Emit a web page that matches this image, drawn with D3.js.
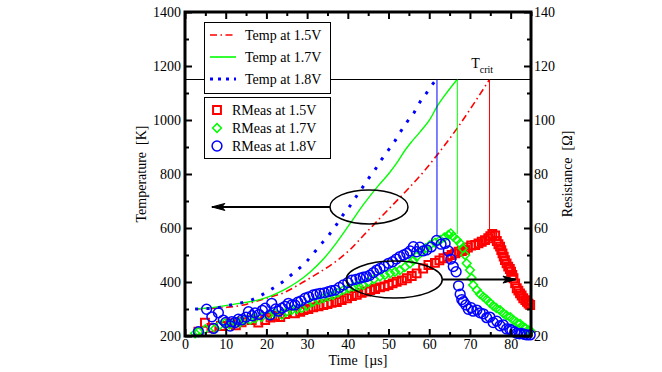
<!DOCTYPE html>
<html lang="en">
<head>
<meta charset="UTF-8">
<title>Temperature and resistance vs time</title>
<script src="https://cdnjs.cloudflare.com/ajax/libs/d3/7.8.5/d3.min.js"></script>
<style>
  body { margin: 0; background: #fff; }
  svg { display: block; font-family: 'Liberation Serif', 'DejaVu Serif', serif; }
</style>
</head>
<body>
<div id="chart"></div>
<script>
// simulated temperature [K] vs time [µs]
const temp15 = [[2.5,300],[6,302],[10,306],[14,314],[17.2,327],[20.1,340],[24.2,360],[28.3,393],[32.4,430],[36.4,469],[40.5,519],[44,575],[47.5,630],[51,685],[54.5,740],[58.6,808],[62.7,885],[66.8,968],[70.8,1057],[74.8,1150]];
const temp17 = [[2.5,300],[5,303],[8,308],[13,320],[17.6,332],[21,348],[24.2,370],[27.4,398],[30.7,436],[34,485],[37.3,547],[40.5,615],[44,690],[47.5,757],[50,800],[52,840],[54.1,889],[55.7,920],[57.7,955],[60.2,1003],[61.8,1047],[64,1095],[66.9,1151]];
const temp18 = [[2.5,300],[8,305],[10.9,314],[13.6,322],[16.4,334],[19,353],[21.3,374],[23.8,398],[26,425],[28.1,451],[30,478],[31.8,510],[33.6,543],[35.5,577],[37.1,610],[38.7,646],[40.4,679],[42,715],[43.7,752],[45.2,786],[46.9,821],[48.3,854],[50,889],[51.6,923],[53.1,960],[54.6,994],[56.3,1028],[57.7,1066],[59.4,1101],[61,1136],[61.9,1150]];

// measured resistance [Ω] vs time [µs]
const rmeas15 = [[3.3,21.6],[4.9,24.9],[6.5,23.0],[8.8,23.7],[11.1,24.7],[12.5,24.0],[13.9,25.1],[16.4,25.9],[18,25.0],[19.7,25.9],[21,26.8],[22.1,27.4],[23.4,27.0],[24.6,28.1],[27,28.4],[28.3,29.0],[29.1,29.6],[30.3,30.0],[31.5,30.6],[32.8,31.0],[34,31.5],[35,31.8],[36,32.3],[37.3,32.6],[38.5,33.3],[39.8,34.0],[41,34.8],[42.2,35.3],[43.4,36.0],[44.5,36.5],[45.5,37.0],[46.7,37.4],[47.9,38.0],[49,38.4],[50,38.9],[51,39.5],[52,40.1],[53.3,40.6],[54.5,41.4],[55.7,42.2],[56.9,43.2],[58.5,45.0],[59.8,46.3],[61.4,47.1],[62.5,48.0],[63.5,48.8],[64.5,49.3],[65.5,50.0],[66.4,50.6],[67.2,51.2],[68,51.5],[68.8,51.9],[69.5,52.8],[70.3,53.5],[71.3,53.7],[72.1,54.3],[72.9,54.9],[73.7,55.5],[74.5,56.2],[75,57.0],[75.5,57.8],[76.2,57.2],[76.6,55.2],[77,54.0],[77.4,53.1],[77.7,51.8],[78,50.6],[78.3,49.4],[78.6,48.1],[79,46.9],[79.4,45.7],[79.8,44.8],[80.1,43.8],[80.4,42.6],[80.7,41.4],[81.1,39.5],[81.5,37.7],[81.9,36.8],[82.3,35.8],[82.7,35.0],[83.1,34.0],[83.6,33.3],[84,32.7],[84.4,32.0],[84.8,31.5]];
const rmeas17 = [[2.5,21.0],[3.3,21.6],[5,22.5],[7.4,22.8],[8.5,24.0],[9.8,24.7],[11,24.2],[12.3,25.3],[13.5,25.0],[14.7,25.9],[16,26.0],[17.2,26.5],[18.8,27.0],[20.5,27.8],[22,28.5],[23.8,27.8],[25,29.0],[26.2,29.6],[27.5,30.0],[28.7,30.3],[30,31.2],[31.5,32.7],[32.8,33.3],[34,34.0],[35.2,34.6],[36.4,35.2],[37.6,36.0],[38.9,37.0],[40.1,37.6],[41.4,38.3],[42.6,38.6],[43.8,38.9],[45,40.0],[46.4,41.0],[47.9,42.0],[49.1,42.6],[50.4,43.2],[51.6,43.8],[52.8,44.4],[54,45.5],[55.3,46.9],[56.1,48.0],[56.9,49.4],[58.1,51.2],[59.1,52.5],[60.2,53.7],[61.4,54.6],[62.7,55.6],[63.7,56.5],[64.7,57.4],[65.3,58.0],[65.9,56.8],[66.8,55.6],[67.6,54.3],[68.2,52.5],[68.8,50.0],[69.2,46.9],[70,44.4],[70.4,41.5],[70.8,38.9],[71.7,37.0],[72.5,35.5],[73.3,34.5],[74.1,33.5],[74.9,32.3],[75.7,31.2],[76.5,30.3],[77.4,29.6],[78.2,28.4],[79,27.6],[79.9,27.0],[80.7,25.9],[81.5,25.0],[82.3,24.5],[83.1,23.4],[83.7,22.8],[84.3,22.2],[84.8,22.0]];
const rmeas18 = [[3.3,21.6],[5.3,29.9],[6.6,27.1],[7,22.8],[8.2,28.6],[9.4,25.9],[10,25.0],[11.1,23.7],[11.5,25.3],[12.3,25.0],[13.1,26.2],[14,26.0],[15,27.0],[15.6,29.0],[16.5,27.5],[17.2,28.6],[18.2,28.0],[19,29.5],[19.7,30.3],[20.9,27.8],[21.3,32.1],[22.3,30.0],[23,29.2],[23.8,30.3],[24.6,31.0],[25.4,32.1],[26.2,31.5],[27,31.5],[27.7,32.5],[28.5,33.0],[29.5,34.0],[30.4,34.5],[31.5,35.2],[32.3,35.5],[33.2,35.8],[34.2,36.0],[35.2,36.4],[36,36.8],[36.9,37.0],[37.9,38.0],[38.9,38.9],[40,39.8],[41,40.7],[42,41.0],[43,41.4],[43.8,41.8],[44.6,42.0],[45.4,42.5],[46.3,43.5],[47.1,44.4],[47.9,45.0],[48.9,45.8],[50,46.9],[51,47.5],[51.9,48.5],[52.8,49.4],[53.7,50.0],[54.5,50.6],[55.3,51.5],[56.1,53.1],[56.9,51.2],[57.7,52.9],[58.5,51.5],[59.4,51.9],[60.5,53.0],[61.8,55.4],[62.9,54.0],[63.9,54.3],[64.7,51.5],[65.3,48.5],[65.9,45.7],[66.6,43.8],[67.2,38.6],[67.6,35.5],[68,33.5],[68.4,32.7],[69,31.5],[69.6,29.9],[70.3,30.5],[70.8,29.2],[71.7,29.6],[72.5,28.6],[73.3,28.2],[74.1,26.8],[74.9,27.0],[75.7,25.0],[76.6,25.5],[77.4,23.8],[78.2,24.1],[79,22.6],[79.8,22.5],[80.3,22.0],[81,21.5],[81.5,21.0],[82.2,20.8],[82.7,21.0],[83.4,20.6],[84,20.4],[84.8,20.4]];

// critical temperature and the time each run reaches it
const tCrit = 1150;
const critTimes = [61.9, 66.9, 74.8];      // 1.8V, 1.7V, 1.5V
const critPeakR = [56.8, 57.7, 58.6];

const xTicks = d3.range(0, 81, 10);
const xMinor = d3.range(5, 86, 10);
const tempTicks = d3.range(200, 1401, 200);
const tempMinor = d3.range(300, 1400, 200);
const resTicks = d3.range(20, 141, 20);
const resMinor = d3.range(30, 140, 20);

const width = 662, height = 372;
const pLeft = 185, pRight = 531, pTop = 12, pBottom = 336;

const x = d3.scaleLinear().domain([0, 85]).range([pLeft, pRight]);
const yT = d3.scaleLinear().domain([200, 1400]).range([pBottom, pTop]);
const yR = d3.scaleLinear().domain([20, 140]).range([pBottom, pTop]);

const RED = '#ff0000', GREEN = '#00ff00', BLUE = '#0000ff';

const svg = d3.select('#chart').append('svg')
    .attr('width', width)
    .attr('height', height);

// temperature curves
const tLine = d3.line().x(d => x(d[0])).y(d => yT(d[1])).curve(d3.curveMonotoneX);
svg.append('path').datum(temp15).attr('d', tLine)
    .attr('fill', 'none').attr('stroke', RED).attr('stroke-width', 1.6)
    .attr('stroke-dasharray', '7,3.5,1.5,3.5');
svg.append('path').datum(temp17).attr('d', tLine)
    .attr('fill', 'none').attr('stroke', GREEN).attr('stroke-width', 1.4);
svg.append('path').datum(temp18).attr('d', tLine)
    .attr('fill', 'none').attr('stroke', BLUE).attr('stroke-width', 3)
    .attr('stroke-dasharray', '3,8.4');

// Tcrit line and label
svg.append('line')
    .attr('x1', x(0)).attr('x2', x(85))
    .attr('y1', yT(tCrit)).attr('y2', yT(tCrit))
    .attr('stroke', '#000').attr('stroke-width', 1);
const tcl = svg.append('text')
    .attr('x', x(70.3)).attr('y', yT(tCrit) - 12)
    .attr('font-size', 14).text('T');
tcl.append('tspan').attr('dy', 5).attr('font-size', 10).text('crit');

// vertical markers from Tcrit down to the resistance peak
[BLUE, GREEN, RED].forEach((c, i) => {
    svg.append('line')
        .attr('x1', x(critTimes[i])).attr('x2', x(critTimes[i]))
        .attr('y1', yT(tCrit)).attr('y2', yR(critPeakR[i]))
        .attr('stroke', c).attr('stroke-width', 1);
});

// measured resistance markers
const sq = d3.symbol().type(d3.symbolSquare).size(62);
svg.append('g').selectAll('path').data(rmeas15).enter().append('path')
    .attr('d', sq)
    .attr('transform', d => `translate(${x(d[0])},${yR(d[1])})`)
    .attr('fill', 'none').attr('stroke', RED).attr('stroke-width', 2);
const dm = d3.symbol().type(d3.symbolSquare).size(38);
svg.append('g').selectAll('path').data(rmeas17).enter().append('path')
    .attr('d', dm)
    .attr('transform', d => `translate(${x(d[0])},${yR(d[1])}) rotate(45)`)
    .attr('fill', 'none').attr('stroke', GREEN).attr('stroke-width', 1.5);
svg.append('g').selectAll('circle').data(rmeas18).enter().append('circle')
    .attr('cx', d => x(d[0])).attr('cy', d => yR(d[1])).attr('r', 4.9)
    .attr('fill', 'none').attr('stroke', BLUE).attr('stroke-width', 1.5);

// annotation ellipses with arrows pointing at the relevant axis
function arrow(x0, x1, y) {
    svg.append('line').attr('x1', x0).attr('x2', x1).attr('y1', y).attr('y2', y)
        .attr('stroke', '#000').attr('stroke-width', 2);
    const dir = x1 < x0 ? 1 : -1;
    svg.append('path')
        .attr('d', `M${x1},${y}L${x1 + dir * 13},${y - 3.5}L${x1 + dir * 10},${y}L${x1 + dir * 13},${y + 3.5}Z`)
        .attr('fill', '#000').attr('stroke', '#000').attr('stroke-width', 1);
}
const e1 = { t: 45.2, v: 678 };
svg.append('ellipse')
    .attr('cx', x(e1.t)).attr('cy', yT(e1.v)).attr('rx', 39).attr('ry', 17)
    .attr('fill', 'none').attr('stroke', '#000').attr('stroke-width', 1.5);
arrow(x(e1.t) - 39, x(6.6), yT(e1.v));

const e2 = { t: 51.4, v: 40.9 };
svg.append('ellipse')
    .attr('cx', x(e2.t)).attr('cy', yR(e2.v)).attr('rx', 48).attr('ry', 18.5)
    .attr('fill', 'none').attr('stroke', '#000').attr('stroke-width', 1.5);
arrow(x(e2.t) + 48, x(81.3), yR(e2.v));

// legends
const leg1 = svg.append('g');
leg1.append('rect').attr('x', 204.5).attr('y', 22.5).attr('width', 126).attr('height', 71)
    .attr('fill', '#fff').attr('stroke', '#000').attr('stroke-width', 1);
const legLines = [
    { label: 'Temp at 1.5V', color: RED, w: 1.6, dash: '7,3.5,1.5,3.5' },
    { label: 'Temp at 1.7V', color: GREEN, w: 1.6, dash: null },
    { label: 'Temp at 1.8V', color: BLUE, w: 3, dash: '3,5' }
];
legLines.forEach((d, i) => {
    const cy = 35 + i * 22;
    leg1.append('line').attr('x1', 210).attr('x2', 236).attr('y1', cy).attr('y2', cy)
        .attr('stroke', d.color).attr('stroke-width', d.w)
        .attr('stroke-dasharray', d.dash);
    leg1.append('text').attr('x', 245).attr('y', cy + 5).attr('font-size', 14).text(d.label);
});

const leg2 = svg.append('g');
leg2.append('rect').attr('x', 204.5).attr('y', 97.5).attr('width', 126).attr('height', 61)
    .attr('fill', '#fff').attr('stroke', '#000').attr('stroke-width', 1);
const legMarks = ['RMeas at 1.5V', 'RMeas at 1.7V', 'RMeas at 1.8V'];
legMarks.forEach((label, i) => {
    const cy = 110 + i * 18;
    const mx = 217;
    if (i === 0) {
        leg2.append('path').attr('d', sq).attr('transform', `translate(${mx},${cy})`)
            .attr('fill', 'none').attr('stroke', RED).attr('stroke-width', 2);
    } else if (i === 1) {
        leg2.append('path').attr('d', dm).attr('transform', `translate(${mx},${cy}) rotate(45)`)
            .attr('fill', 'none').attr('stroke', GREEN).attr('stroke-width', 1.5);
    } else {
        leg2.append('circle').attr('cx', mx).attr('cy', cy).attr('r', 4.9)
            .attr('fill', 'none').attr('stroke', BLUE).attr('stroke-width', 1.5);
    }
    leg2.append('text').attr('x', 232).attr('y', cy + 5).attr('font-size', 14).text(label);
});

// axes
const fmt = d3.format('d');
function styleAxis(g) {
    g.select('.domain').remove();
    g.selectAll('.tick line').attr('stroke', '#000').attr('stroke-width', 2);
    g.selectAll('.tick text').attr('font-size', 14).attr('font-family', "'Liberation Serif', serif").attr('fill', '#000');
}
svg.append('g').attr('transform', `translate(0,${pBottom})`)
    .call(d3.axisBottom(x).tickValues(xTicks).tickFormat(fmt).tickSizeInner(-7).tickSizeOuter(0).tickPadding(3))
    .call(styleAxis);
svg.append('g').attr('transform', `translate(0,${pBottom})`)
    .call(d3.axisBottom(x).tickValues(xMinor).tickSizeInner(-4).tickSizeOuter(0).tickFormat(''))
    .call(styleAxis);
svg.append('g').attr('transform', `translate(0,${pTop})`)
    .call(d3.axisTop(x).tickValues(xTicks).tickSizeInner(-7).tickSizeOuter(0).tickFormat(''))
    .call(styleAxis);
svg.append('g').attr('transform', `translate(0,${pTop})`)
    .call(d3.axisTop(x).tickValues(xMinor).tickSizeInner(-4).tickSizeOuter(0).tickFormat(''))
    .call(styleAxis);
svg.append('g').attr('transform', `translate(${pLeft},0)`)
    .call(d3.axisLeft(yT).tickValues(tempTicks).tickFormat(fmt).tickSizeInner(-7).tickSizeOuter(0).tickPadding(4))
    .call(styleAxis);
svg.append('g').attr('transform', `translate(${pLeft},0)`)
    .call(d3.axisLeft(yT).tickValues(tempMinor).tickSizeInner(-4).tickSizeOuter(0).tickFormat(''))
    .call(styleAxis);
svg.append('g').attr('transform', `translate(${pRight},0)`)
    .call(d3.axisRight(yR).tickValues(resTicks).tickFormat(fmt).tickSizeInner(-7).tickSizeOuter(0).tickPadding(3))
    .call(styleAxis);
svg.append('g').attr('transform', `translate(${pRight},0)`)
    .call(d3.axisRight(yR).tickValues(resMinor).tickSizeInner(-4).tickSizeOuter(0).tickFormat(''))
    .call(styleAxis);

// frame
svg.append('rect')
    .attr('x', pLeft).attr('y', pTop).attr('width', pRight - pLeft).attr('height', pBottom - pTop)
    .attr('fill', 'none').attr('stroke', '#000').attr('stroke-width', 3);

// axis titles
svg.append('text')
    .attr('transform', `translate(146,${(pTop + pBottom) / 2}) rotate(-90)`)
    .attr('text-anchor', 'middle').attr('font-size', 14)
    .style('white-space', 'pre').text('Temperature  [K]');
svg.append('text')
    .attr('transform', `translate(572,${(pTop + pBottom) / 2}) rotate(-90)`)
    .attr('text-anchor', 'middle').attr('font-size', 14)
    .style('white-space', 'pre').text('Resistance  [Ω]');
svg.append('text')
    .attr('x', (pLeft + pRight) / 2).attr('y', 365)
    .attr('text-anchor', 'middle').attr('font-size', 14)
    .style('white-space', 'pre').text('Time  [µs]');
</script>
</body>
</html>
